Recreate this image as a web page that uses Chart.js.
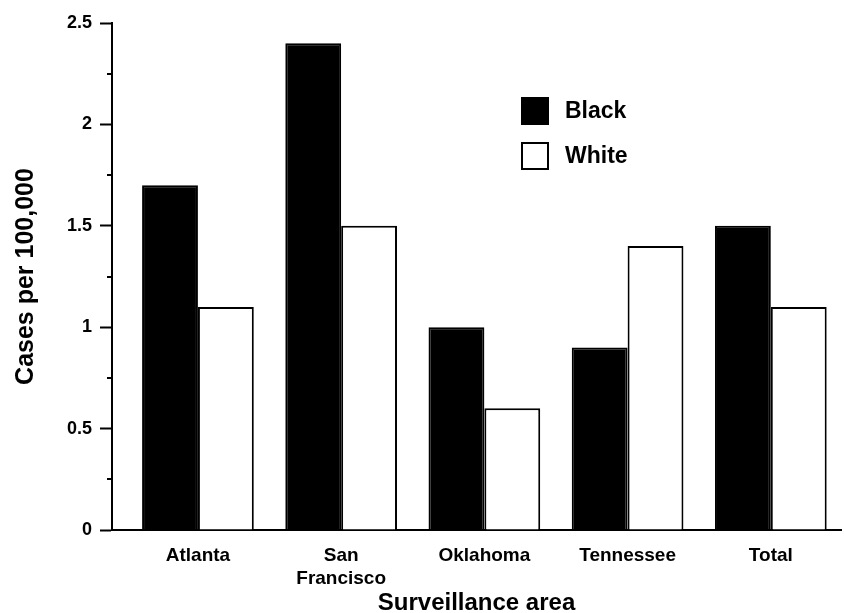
<!DOCTYPE html>
<html>
<head>
<meta charset="utf-8">
<script src="https://cdn.jsdelivr.net/npm/chart.js@4/dist/chart.umd.min.js"></script>
<style>
  body { margin: 0; background: #fff; }
</style>
</head>
<body>
<canvas id="chart" width="844" height="613"></canvas>
<script>
// data
const categories = [['Atlanta'], ['San', 'Francisco'], ['Oklahoma'], ['Tennessee'], ['Total']];
const blackValues = [1.7, 2.4, 1.0, 0.9, 1.5];
const whiteValues = [1.1, 1.5, 0.6, 1.4, 1.1];
const yMajorTicks = [0, 0.5, 1, 1.5, 2, 2.5];
const yMinorTicks = [0.25, 0.75, 1.25, 1.75, 2.25];

const FONT = "'Liberation Sans', Arial, Helvetica, sans-serif";

// small extra ticks between the labelled ones on the y axis
const minorTicks = {
    id: 'minorTicks',
    afterDraw(chart) {
        const y = chart.scales.y;
        const ctx = chart.ctx;
        ctx.save();
        ctx.strokeStyle = '#000';
        ctx.lineWidth = 2;
        yMinorTicks.forEach(v => {
            const py = Math.round(y.getPixelForValue(v));
            ctx.beginPath();
            ctx.moveTo(y.right - 5, py);
            ctx.lineTo(y.right, py);
            ctx.stroke();
        });
        ctx.restore();
    }
};

// legend drawn inside the plot, upper middle
const boxLegend = {
    id: 'boxLegend',
    afterDraw(chart) {
        const ctx = chart.ctx;
        const x0 = 521, size = 28;
        const rows = [97, 142];
        ctx.save();
        ctx.font = 'bold 23px ' + FONT;
        ctx.textBaseline = 'middle';
        chart.data.datasets.forEach((ds, i) => {
            const top = rows[i];
            ctx.fillStyle = ds.backgroundColor;
            ctx.fillRect(x0, top, size, size);
            ctx.strokeStyle = ds.borderColor;
            ctx.lineWidth = 2;
            ctx.strokeRect(x0 + 1, top + 1, size - 2, size - 2);
            ctx.fillStyle = '#000';
            ctx.fillText(ds.label, x0 + 44, top + size / 2 + 1);
        });
        ctx.restore();
    }
};

const context = document.querySelector('#chart');
const chart = new Chart(context, {
    type: 'bar',
    data: {
        datasets: [
            {
                label: 'Black',
                data: blackValues.map((v, i) => ({ x: i, y: v })),
                backgroundColor: '#000',
                borderColor: '#000',
                borderWidth: 2
            },
            {
                label: 'White',
                data: whiteValues.map((v, i) => ({ x: i, y: v })),
                backgroundColor: '#fff',
                borderColor: '#000',
                borderWidth: 2
            }
        ]
    },
    options: {
        responsive: false,
        animation: false,
        categoryPercentage: 0.78,
        barPercentage: 1.0,
        layout: { padding: { top: 23, right: 3, left: 0, bottom: 0 } },
        plugins: {
            legend: { display: false },
            tooltip: { enabled: false }
        },
        scales: {
            x: {
                type: 'linear',
                offset: false,
                min: -0.6,
                max: 4.49,
                afterBuildTicks: scale => {
                    scale.ticks = categories.map((c, i) => ({ value: i }));
                },
                afterFit: scale => { scale.height = 83; },
                grid: { display: false, offset: false },
                border: { display: true, color: '#000', width: 2 },
                ticks: {
                    autoSkip: false,
                    maxRotation: 0,
                    padding: 6,
                    color: '#000',
                    font: { family: FONT, size: 19, weight: 'bold', lineHeight: 1.22 },
                    callback: value => categories[value]
                },
                title: {
                    display: true,
                    text: 'Surveillance area',
                    color: '#000',
                    font: { family: FONT, size: 24, weight: 'bold', lineHeight: 1 },
                    padding: { top: 0, bottom: -2 }
                }
            },
            y: {
                min: 0,
                max: 2.5,
                afterBuildTicks: scale => {
                    scale.ticks = yMajorTicks.map(v => ({ value: v }));
                },
                afterFit: scale => { scale.width = 112; },
                grid: {
                    display: true,
                    drawOnChartArea: false,
                    drawTicks: true,
                    tickLength: 12,
                    tickWidth: 2,
                    tickColor: '#000'
                },
                border: { display: true, color: '#000', width: 2 },
                ticks: {
                    padding: 8,
                    color: '#000',
                    font: { family: FONT, size: 18, weight: 'bold' },
                    callback: value => String(value)
                },
                title: {
                    display: true,
                    text: 'Cases per 100,000',
                    color: '#000',
                    font: { family: FONT, size: 25, weight: 'bold', lineHeight: 1.2 },
                    padding: { top: 11, bottom: 0 }
                }
            }
        }
    },
    plugins: [minorTicks, boxLegend]
});
</script>
</body>
</html>
